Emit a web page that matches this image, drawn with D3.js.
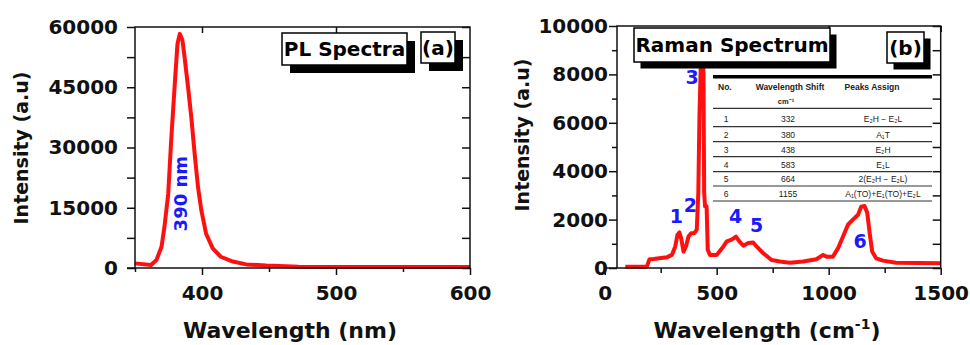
<!DOCTYPE html>
<html>
<head>
<meta charset="utf-8">
<script src="https://cdn.jsdelivr.net/npm/d3@7"></script>
<style>
  body { margin: 0; background: #fff; }
  text { font-family: "DejaVu Sans", sans-serif; font-weight: bold; }
</style>
</head>
<body>
<svg id="chart" width="970" height="345"></svg>
<script>
// PL spectrum (a): wavelength nm / intensity
const plWave = [350, 362, 366, 369.8, 372, 374.8, 377, 379.7, 381.7, 383.4, 385.4, 387, 389.6, 392, 394.5, 397, 399.5, 403, 408, 414, 423, 433, 448, 472, 497, 600];
const plInt  = [1150, 750, 2000, 5300, 10300, 18500, 31800, 45900, 55800, 58300, 56700, 52500, 45000, 37600, 28500, 20200, 14400, 8600, 4900, 2800, 1600, 900, 600, 330, 250, 250];

// Raman spectrum (b): shift cm-1 / intensity
const ramanShift = [92, 188, 200, 218, 277, 300, 315, 325, 334, 341, 352, 363, 374, 386, 399, 411, 418, 423, 429, 437, 441, 444, 448, 455, 460, 470, 500, 530, 545, 567, 586, 601, 619, 641, 663, 678, 708, 745, 782, 826, 886, 945, 975, 990, 1019, 1042, 1064, 1086, 1108, 1131, 1145, 1160, 1172, 1183, 1194, 1212, 1242, 1301, 1497];
const ramanInt   = [55, 55, 360, 375, 440, 540, 890, 1375, 1470, 1240, 680, 890, 1300, 1440, 1440, 1580, 3110, 6300, 8400, 9400, 8000, 3110, 2550, 2550, 750, 540, 540, 890, 1100, 1170, 1300, 1100, 920, 1030, 1055, 890, 610, 330, 265, 220, 265, 360, 540, 470, 470, 820, 1300, 1790, 2000, 2200, 2530, 2560, 2280, 1440, 680, 400, 305, 220, 195];

// Ticks
const plXTicks = [400, 500, 600];
const plXMinor = [350, 450, 550];
const plYTicks = [0, 15000, 30000, 45000, 60000];
const plYMinor = [7500, 22500, 37500, 52500];
const raXTicks = [0, 500, 1000, 1500];
const raXMinor = [250, 750, 1250];
const raYTicks = [0, 2000, 4000, 6000, 8000, 10000];
const raYMinor = [1000, 3000, 5000, 7000, 9000];

// Peak labels and table
const peakNames = ['1', '2', '3', '4', '5', '6'];
const peakLabelX = [320, 383, 390, 585, 678, 1140];
const peakLabelY = [1850, 2320, 7600, 1850, 1500, 820];
const tabNo = ['1', '2', '3', '4', '5', '6'];
const tabShift = ['332', '380', '438', '583', '664', '1155'];
const tabAssign = ['E\u2082H \u2212 E\u2082L', 'A\u2081T', 'E\u2082H', 'E\u2081L', '2(E\u2082H \u2212 E\u2082L)', 'A\u2081(TO)+E\u2081(TO)+E\u2082L'];

const svg = d3.select('#chart');
svg.append('rect').attr('width', 970).attr('height', 345).attr('fill', '#fff');

const red = '#ff1010', blue = '#1a1aff', ink = '#111';

function ticks(g, axisFn, scale, values, size, pad, labels) {
  const ax = axisFn(scale).tickValues(values).tickSize(size).tickPadding(pad)
    .tickFormat(labels ? d3.format('d') : '');
  const a = g.call(ax);
  a.select('.domain').remove();
  a.selectAll('line').attr('stroke', ink).attr('stroke-width', 1.5);
  a.selectAll('text').attr('fill', ink).attr('font-size', 20)
    .style('font-family', '"DejaVu Sans", sans-serif').style('font-weight', 'bold');
  return a;
}

function legendBox(x, y, w, h, off, label, fs) {
  const g = svg.append('g');
  g.append('rect').attr('x', x + off).attr('y', y + off).attr('width', w).attr('height', h).attr('fill', '#000');
  g.append('rect').attr('x', x).attr('y', y).attr('width', w).attr('height', h)
    .attr('fill', '#fff').attr('stroke', '#000').attr('stroke-width', 1.5);
  g.append('text').attr('x', x + w / 2).attr('y', y + h / 2).attr('dy', '0.36em')
    .attr('text-anchor', 'middle').attr('font-size', fs).attr('fill', '#000').text(label);
}

// ---------- panel (a) ----------
{
  const x = d3.scaleLinear().domain([350, 600]).range([135, 470]);
  const y = d3.scaleLinear().domain([0, 60000]).range([268, 27]);

  svg.append('path').datum(d3.zip(plWave, plInt))
    .attr('fill', 'none').attr('stroke', red).attr('stroke-width', 4).attr('stroke-linejoin', 'round')
    .attr('d', d3.line().x(d => x(d[0])).y(d => y(d[1])));

  svg.append('rect').attr('x', 135).attr('y', 27).attr('width', 335).attr('height', 241)
    .attr('fill', 'none').attr('stroke', ink).attr('stroke-width', 1.5);
  svg.append('line').attr('x1', 127).attr('x2', 135).attr('y1', 268).attr('y2', 268).attr('stroke', ink).attr('stroke-width', 1.5);

  ticks(svg.append('g').attr('transform', 'translate(0,268)'), d3.axisBottom, x, plXTicks, 7, 11, true);
  ticks(svg.append('g').attr('transform', 'translate(0,268)'), d3.axisBottom, x, plXMinor, 4, 0, false);
  ticks(svg.append('g').attr('transform', 'translate(0,27)'), d3.axisBottom, x, [400, 500], 6, 0, false);
  ticks(svg.append('g').attr('transform', 'translate(135,0)'), d3.axisLeft, y, plYTicks, 8, 9, true);
  ticks(svg.append('g').attr('transform', 'translate(135,0)'), d3.axisLeft, y, plYMinor, 8, 0, false);
  ticks(svg.append('g').attr('transform', 'translate(470,0)'), d3.axisLeft, y, plYTicks.concat(plYMinor), 8, 0, false);

  svg.append('text').attr('transform', 'translate(28,148) rotate(-90)').attr('text-anchor', 'middle')
    .attr('font-size', 19).attr('fill', ink).text('Intensity (a.u)');
  svg.append('text').attr('x', 290).attr('y', 338).attr('text-anchor', 'middle')
    .attr('font-size', 22).attr('fill', ink).text('Wavelength (nm)');

  svg.append('text').attr('transform', `translate(${x(383.5) + 7},${y(18500)}) rotate(-90)`)
    .attr('text-anchor', 'middle').attr('font-size', 18).attr('fill', blue).text('390 nm');

  legendBox(282, 33, 125, 32, 8, 'PL Spectra', 20);
  legendBox(421, 32, 34, 31, 8, '(a)', 20);
}

// ---------- panel (b) ----------
{
  const x = d3.scaleLinear().domain([0, 1500]).range([604.7, 940.7]);
  const y = d3.scaleLinear().domain([0, 10000]).range([268, 26]);
  const left = 617;

  svg.append('path').datum(d3.zip(ramanShift, ramanInt))
    .attr('fill', 'none').attr('stroke', red).attr('stroke-width', 4).attr('stroke-linejoin', 'round')
    .attr('d', d3.line().x(d => x(d[0])).y(d => y(d[1])));

  svg.append('rect').attr('x', left).attr('y', 26).attr('width', 940.7 - left).attr('height', 242)
    .attr('fill', 'none').attr('stroke', ink).attr('stroke-width', 1.5);
  svg.append('line').attr('x1', x(0)).attr('x2', left).attr('y1', 268).attr('y2', 268).attr('stroke', ink).attr('stroke-width', 1.5);

  ticks(svg.append('g').attr('transform', 'translate(0,268)'), d3.axisBottom, x, raXTicks, 7, 11, true);
  ticks(svg.append('g').attr('transform', 'translate(0,268)'), d3.axisBottom, x, raXMinor, 5, 0, false);
  ticks(svg.append('g').attr('transform', 'translate(0,26)'), d3.axisBottom, x, [1000, 1500], 6, 0, false);
  ticks(svg.append('g').attr('transform', `translate(${left},0)`), d3.axisLeft, y, raYTicks, 8, 1, true);
  ticks(svg.append('g').attr('transform', `translate(${left},0)`), d3.axisLeft, y, raYMinor, 5, 0, false);
  ticks(svg.append('g').attr('transform', 'translate(940.7,0)'), d3.axisLeft, y, raYTicks.concat(raYMinor), 8, 0, false);

  svg.append('text').attr('transform', 'translate(529,135) rotate(-90)').attr('text-anchor', 'middle')
    .attr('font-size', 19).attr('fill', ink).text('Intensity (a.u)');
  const xt = svg.append('text').attr('x', 767).attr('y', 338).attr('text-anchor', 'middle')
    .attr('font-size', 22).attr('fill', ink);
  xt.append('tspan').text('Wavelength (cm');
  xt.append('tspan').attr('font-size', 14).attr('dy', -9).text('-1');
  xt.append('tspan').attr('dy', 9).text(')');

  svg.append('g').selectAll('text').data(peakNames).join('text')
    .attr('x', (d, i) => x(peakLabelX[i])).attr('y', (d, i) => y(peakLabelY[i]))
    .attr('text-anchor', 'middle').attr('font-size', 19).attr('fill', blue).text(d => d);

  legendBox(634, 28, 196, 34, 6.5, 'Raman Spectrum', 20);
  legendBox(887, 32, 37, 31, 6.5, '(b)', 20);

  // inset table
  const tb = svg.append('g');
  const tx0 = 713, tx1 = 932;
  const cell = (sel) => sel.style('font-family', '"Liberation Sans", Arial, sans-serif').attr('fill', '#222');
  tb.append('rect').attr('x', tx0).attr('y', 75).attr('width', tx1 - tx0).attr('height', 3.5).attr('fill', '#000');
  cell(tb.append('text').attr('x', 718).attr('y', 90).attr('font-size', 8.5)).text('No.');
  cell(tb.append('text').attr('x', 790).attr('y', 90).attr('text-anchor', 'middle').attr('font-size', 8.5)).text('Wavelength Shift');
  cell(tb.append('text').attr('x', 786).attr('y', 104).attr('text-anchor', 'middle').attr('font-size', 7.5)).text('cm\u207B\u00B9');
  cell(tb.append('text').attr('x', 872).attr('y', 90).attr('text-anchor', 'middle').attr('font-size', 8.5)).text('Peaks Assign');
  const lineY = [108.3, 126.7, 141.7, 156.7, 171.7, 186, 201];
  tb.selectAll('line').data(lineY).join('line')
    .attr('x1', tx0).attr('x2', tx1).attr('y1', d => d).attr('y2', d => d)
    .attr('stroke', '#333').attr('stroke-width', 1.2);
  const rowY = [122, 137.5, 152.5, 167.5, 182, 197];
  const col = (data, cx) => cell(tb.append('g').selectAll('text').data(data).join('text')
    .attr('x', cx).attr('y', (d, i) => rowY[i]).attr('text-anchor', 'middle')
    .attr('font-size', 8.5).style('font-weight', 'normal')).text(d => d);
  col(tabNo, 726);
  col(tabShift, 788);
  col(tabAssign, 883);
}
</script>
</body>
</html>
